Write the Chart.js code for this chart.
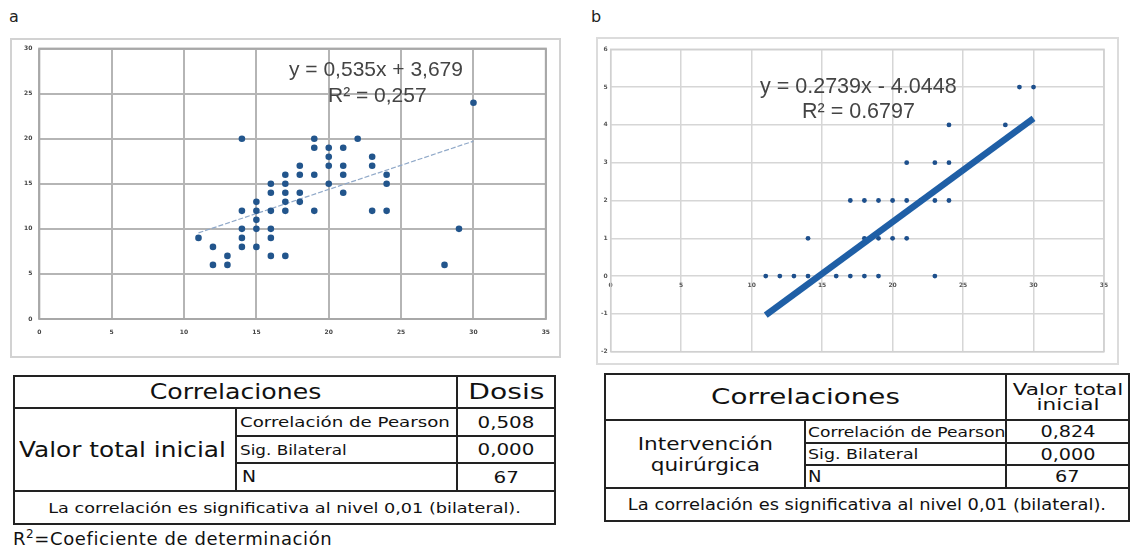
<!DOCTYPE html>
<html>
<head>
<meta charset="utf-8">
<script src="https://cdn.jsdelivr.net/npm/chart.js@4.4.0/dist/chart.umd.min.js"></script>
<style>
  html, body { margin:0; padding:0; background:#fff; }
  body { width:1130px; height:551px; position:relative; overflow:hidden; font-family:"DejaVu Sans", Verdana, sans-serif; }
  .lab { position:absolute; font-size:16px; color:#222; }
  .box { position:absolute; border:2px solid #d2d2d2; box-sizing:border-box; }
  canvas { position:absolute; }
  .eq { position:absolute; font-family:"Liberation Sans", Arial, sans-serif; color:#444; white-space:nowrap; }
  table { position:absolute; border-collapse:collapse; font-family:"DejaVu Sans", Verdana, sans-serif; color:#111; table-layout:fixed; }
  td { border:2px solid #222; padding:0; white-space:nowrap; overflow:visible; }
  .s { display:inline-block; transform-origin:50% 50%; }
  .l { display:inline-block; transform-origin:0 50%; }
  .note { position:absolute; font-size:18px; letter-spacing:0.6px; color:#111; white-space:nowrap; }
</style>
</head>
<body>
<script>
// ---------- data ----------
// Panel a: Dosis (x) vs Valor total inicial (y)
const aX = [11, 12,12, 13,13, 14,14,14,14,14, 15,15,15,15,15, 16,16,16,16,16,16, 17,17,17,17,17,17, 18,18,18,18, 19,19,19,19, 20,20,20,20, 21,21,21,21, 22, 23,23,23, 24,24,24, 28, 29, 30];
const aY = [ 9,  8, 6,  7, 6, 20,12,10, 9, 8, 13,12,11,10, 8, 15,14,12,10, 9, 7, 16,15,14,13,12, 7, 17,16,14,13, 20,19,16,12, 19,18,17,15, 19,17,16,14, 20, 18,17,12, 16,15,12,  6, 10, 24];
const aTrendX = [11, 30];
const aTrendY = [9.56, 19.73];
const aTicksX = [0, 5, 10, 15, 20, 25, 30, 35];
const aTicksY = [0, 5, 10, 15, 20, 25, 30];

// Panel b: Valor total inicial (x) vs Intervención quirúrgica (y)
const bX = [11,12,13,14,16,17,18,19,23, 14,18,19,20,21, 17,18,19,20,21,22,23,24, 21,23,24, 24,28, 29,30];
const bY = [ 0, 0, 0, 0, 0, 0, 0, 0, 0,  1, 1, 1, 1, 1,  2, 2, 2, 2, 2, 2, 2, 2,  3, 3, 3,  4, 4,  5, 5];
const bTrendX = [11, 30];
const bTrendY = [-1.03, 4.17];
const bTicksX = [0, 5, 10, 15, 20, 25, 30, 35];
const bTicksY = [-2, -1, 0, 1, 2, 3, 4, 5, 6];

const toPts = (xs, ys) => xs.map((x, i) => ({x: x, y: ys[i]}));

const framePlugin = {
  id: 'frame',
  afterDraw(chart, args, opts) {
    const a = chart.chartArea, c = chart.ctx;
    c.save();
    c.strokeStyle = opts.color; c.lineWidth = opts.width;
    c.strokeRect(a.left, a.top, a.right - a.left, a.bottom - a.top);
    c.restore();
  }
};
Chart.register(framePlugin);
</script>

<div class="lab" style="left:9px;top:7px;">a</div>
<div class="lab" style="left:591px;top:7px;">b</div>
<div class="box" style="left:10px;top:38px;width:551px;height:320px;"></div>
<div class="box" style="left:596px;top:37px;width:523px;height:328px;border-color:#dcdcdc;"></div>

<canvas id="ca" width="550" height="320" style="left:10px;top:38px;"></canvas>
<canvas id="cb" width="520" height="326" style="left:597px;top:38px;"></canvas>

<div class="eq" style="left:289px;top:57px;font-size:21px;">y = 0,535x + 3,679</div>
<div class="eq" style="left:328px;top:83px;font-size:21px;">R² = 0,257</div>
<div class="eq" style="left:760px;top:74px;font-size:21.5px;">y = 0.2739x - 4.0448</div>
<div class="eq" style="left:802px;top:99px;font-size:21.5px;">R² = 0.6797</div>

<table style="left:13px;top:375px;width:541px;height:150px;">
  <colgroup><col style="width:222px"><col style="width:221px"><col style="width:98px"></colgroup>
  <tr style="height:32px;">
    <td colspan="2" style="text-align:center;font-size:21px;"><span class="s" style="transform:scaleX(1.2);">Correlaciones</span></td>
    <td style="text-align:center;font-size:21px;"><span class="s" style="transform:scaleX(1.34);">Dosis</span></td>
  </tr>
  <tr style="height:28px;">
    <td rowspan="3" style="font-size:21px;padding-left:4px;"><span class="l" style="transform:scaleX(1.18);">Valor total inicial</span></td>
    <td style="font-size:14px;padding-left:3px;"><span class="l" style="transform:scaleX(1.3);">Correlación de Pearson</span></td>
    <td style="text-align:center;font-size:16px;"><span class="s" style="transform:scaleX(1.24);">0,508</span></td>
  </tr>
  <tr style="height:27px;">
    <td style="font-size:14px;padding-left:3px;"><span class="l" style="transform:scaleX(1.2);">Sig. Bilateral</span></td>
    <td style="text-align:center;font-size:16px;"><span class="s" style="transform:scaleX(1.24);">0,000</span></td>
  </tr>
  <tr style="height:28px;">
    <td style="font-size:15px;padding-left:5px;"><span class="l" style="transform:scaleX(1.25);">N</span></td>
    <td style="text-align:center;font-size:16px;"><span class="s" style="transform:scaleX(1.24);">67</span></td>
  </tr>
  <tr style="height:33px;">
    <td colspan="3" style="text-align:center;font-size:14px;"><span class="s" style="transform:scaleX(1.26);">La correlación es significativa al nivel 0,01 (bilateral).</span></td>
  </tr>
</table>
<div class="note" style="left:13px;top:527px;">R<sup style="font-size:12px;">2</sup>=Coeficiente de determinación</div>

<table style="left:604px;top:373px;width:524px;height:147px;">
  <colgroup><col style="width:200px"><col style="width:201px"><col style="width:123px"></colgroup>
  <tr style="height:46px;">
    <td colspan="2" style="text-align:center;font-size:21px;"><span class="s" style="transform:scaleX(1.32);">Correlaciones</span></td>
    <td style="text-align:center;font-size:16px;line-height:15px;"><span class="s" style="transform:scaleX(1.35);">Valor total<br>inicial</span></td>
  </tr>
  <tr style="height:23px;">
    <td rowspan="3" style="text-align:center;font-size:18px;line-height:21px;"><span class="s" style="transform:scaleX(1.2);">Intervención<br>quirúrgica</span></td>
    <td style="font-size:14.5px;padding-left:2px;"><span class="l" style="transform:scaleX(1.18);">Correlación de Pearson</span></td>
    <td style="text-align:center;font-size:16px;"><span class="s" style="transform:scaleX(1.2);">0,824</span></td>
  </tr>
  <tr style="height:22px;">
    <td style="font-size:14.5px;padding-left:2px;"><span class="l" style="transform:scaleX(1.2);">Sig. Bilateral</span></td>
    <td style="text-align:center;font-size:16px;"><span class="s" style="transform:scaleX(1.2);">0,000</span></td>
  </tr>
  <tr style="height:23px;">
    <td style="font-size:15px;padding-left:2px;"><span class="l" style="transform:scaleX(1.2);">N</span></td>
    <td style="text-align:center;font-size:16px;"><span class="s" style="transform:scaleX(1.2);">67</span></td>
  </tr>
  <tr style="height:33px;">
    <td colspan="3" style="text-align:center;font-size:15px;"><span class="s" style="transform:scaleX(1.19);">La correlación es significativa al nivel 0,01 (bilateral).</span></td>
  </tr>
</table>

<script>
const tickFont = {family: 'DejaVu Sans', size: 6, weight: 'bold'};

new Chart(document.getElementById('ca'), {
  type: 'scatter',
  data: {
    datasets: [
      {
        type: 'line',
        data: toPts(aTrendX, aTrendY),
        borderColor: '#8fa8c8',
        borderWidth: 1.2,
        borderDash: [5, 2],
        pointRadius: 0,
        fill: false,
        order: 2
      },
      {
        data: toPts(aX, aY),
        backgroundColor: '#22558c',
        borderColor: '#22558c',
        pointRadius: 3.3,
        pointBorderWidth: 0,
        order: 1
      }
    ]
  },
  options: {
    responsive: false,
    animation: false,
    devicePixelRatio: 1,
    layout: {padding: {top: 9, right: 11.7, bottom: 0, left: 0}},
    plugins: {legend: {display: false}, tooltip: {enabled: false}, frame: {color: '#a8a8a8', width: 2}},
    scales: {
      x: {
        type: 'linear', min: 0, max: 35,
        afterBuildTicks: s => { s.ticks = aTicksX.map(v => ({value: v})); },
        afterFit: s => { s.height = 39; },
        grid: {color: '#b5b5b5', lineWidth: 2, drawTicks: false},
        border: {display: false},
        ticks: {font: tickFont, color: '#444', padding: 10, maxRotation: 0}
      },
      y: {
        type: 'linear', min: 0, max: 30,
        afterBuildTicks: s => { s.ticks = aTicksY.map(v => ({value: v})); },
        afterFit: s => { s.width = 29.3; },
        grid: {color: '#b5b5b5', lineWidth: 2, drawTicks: false},
        border: {display: false},
        ticks: {font: tickFont, color: '#444', padding: 7}
      }
    }
  }
});

new Chart(document.getElementById('cb'), {
  type: 'scatter',
  data: {
    datasets: [
      {
        type: 'line',
        data: toPts(bTrendX, bTrendY),
        borderColor: '#1f5fa6',
        borderWidth: 6.5,
        pointRadius: 0,
        fill: false,
        order: 1
      },
      {
        data: toPts(bX, bY),
        backgroundColor: '#1d4f8c',
        borderColor: '#1d4f8c',
        pointRadius: 2.4,
        pointBorderWidth: 0,
        order: 2
      }
    ]
  },
  options: {
    responsive: false,
    animation: false,
    devicePixelRatio: 1,
    layout: {padding: {top: 11.3, right: 13, bottom: 12.3, left: 0}},
    plugins: {legend: {display: false}, tooltip: {enabled: false}, frame: {color: '#d0d0d0', width: 1.5}},
    scales: {
      x: {
        type: 'linear', min: 0, max: 35,
        position: {y: 0},
        afterBuildTicks: s => { s.ticks = bTicksX.map(v => ({value: v})); },
        grid: {color: '#d6d6d6', lineWidth: 1.5, drawTicks: false},
        border: {display: false},
        ticks: {font: tickFont, color: '#555', padding: 6, maxRotation: 0}
      },
      y: {
        type: 'linear', min: -2, max: 6,
        afterBuildTicks: s => { s.ticks = bTicksY.map(v => ({value: v})); },
        afterFit: s => { s.width = 13.7; },
        grid: {color: '#d6d6d6', lineWidth: 1.5, drawTicks: false},
        border: {display: false},
        ticks: {font: tickFont, color: '#555', padding: 3}
      }
    }
  }
});
</script>
</body>
</html>
